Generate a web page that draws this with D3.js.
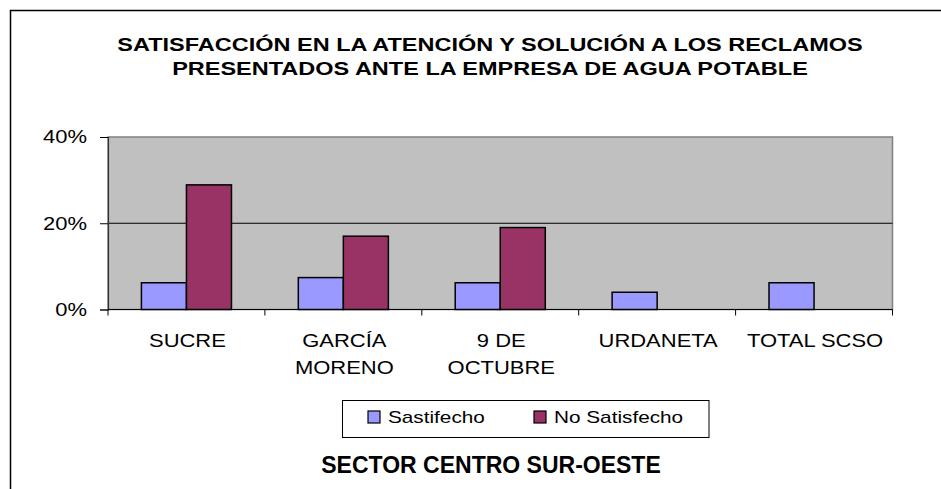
<!DOCTYPE html>
<html>
<head>
<meta charset="utf-8">
<script src="https://cdn.jsdelivr.net/npm/d3@7"></script>
<style>
  html, body { margin: 0; padding: 0; background: #fff; }
  svg { display: block; font-family: "Liberation Sans", Arial, sans-serif; }
</style>
</head>
<body>
<svg id="chart" width="941" height="489"></svg>
<script>
const categories = ["SUCRE", "GARCÍA MORENO", "9 DE OCTUBRE", "URDANETA", "TOTAL SCSO"];
const categoryLines = [["SUCRE"], ["GARCÍA", "MORENO"], ["9 DE", "OCTUBRE"], ["URDANETA"], ["TOTAL SCSO"]];
const seriesNames = ["Sastifecho", "No Satisfecho"];
const satisfecho = [0.062, 0.074, 0.062, 0.040, 0.062];
const noSatisfecho = [0.289, 0.170, 0.190, 0, 0];
const yTicks = [0, 0.2, 0.4];
const titleLines = ["SATISFACCIÓN EN LA ATENCIÓN Y SOLUCIÓN A LOS RECLAMOS", "PRESENTADOS ANTE LA EMPRESA DE AGUA POTABLE"];
const axisTitle = "SECTOR CENTRO SUR-OESTE";

const colors = ["#9999FF", "#993366"];
const STRETCH = 1.22;
const svg = d3.select("#chart");

function stretch(sel, f) {
  sel.each(function() {
    const len = this.getComputedTextLength();
    d3.select(this).attr("textLength", len * (f || STRETCH)).attr("lengthAdjust", "spacingAndGlyphs");
  });
}

// outer border
svg.append("rect").attr("x", 10.5).attr("y", 10.5).attr("width", 960).attr("height", 500)
  .attr("fill", "#fff").attr("stroke", "#000").attr("stroke-width", 1.5);

const L = 108, R = 892.5, T = 137, B = 309.5;
const x = d3.scaleBand().domain(categories).range([L, R]).padding(0);
const groupFrac = 0.574;
const xs = d3.scaleBand().domain(seriesNames).range([0, x.bandwidth() * groupFrac]).padding(0);
const y = d3.scaleLinear().domain([0, 0.4]).range([B, T]);

// plot area
svg.append("rect").attr("x", L).attr("y", T).attr("width", R - L).attr("height", B - T)
  .attr("fill", "#C0C0C0").attr("stroke", "#808080").attr("stroke-width", 1.5);

// gridlines
svg.append("g").selectAll("line").data(yTicks.filter(d => d > 0 && d < 0.4)).join("line")
  .attr("x1", L).attr("x2", R).attr("y1", d => y(d)).attr("y2", d => y(d))
  .attr("stroke", "#000").attr("stroke-width", 1);

// bars
const data = categories.map((c, i) => ({ cat: c, vals: [satisfecho[i], noSatisfecho[i]] }));
const groups = svg.append("g").selectAll("g").data(data).join("g")
  .attr("transform", d => `translate(${x(d.cat) + x.bandwidth() * (1 - groupFrac) / 2},0)`);
groups.selectAll("rect")
  .data(d => d.vals.map((v, j) => ({ v, s: seriesNames[j], j })).filter(e => e.v > 0))
  .join("rect")
  .attr("x", d => xs(d.s)).attr("width", xs.bandwidth())
  .attr("y", d => y(d.v)).attr("height", d => y(0) - y(d.v))
  .attr("fill", d => colors[d.j]).attr("stroke", "#000").attr("stroke-width", 1.5);

// y axis
const yAxis = svg.append("g").attr("transform", `translate(${L},0)`)
  .call(d3.axisLeft(y).tickValues(yTicks).tickFormat(d3.format(".0%")).tickSize(8).tickPadding(13));
yAxis.select(".domain").attr("stroke", "#333").attr("stroke-width", 1.2);
yAxis.selectAll(".tick line").attr("stroke", "#000");
yAxis.selectAll("text").attr("font-size", 18).attr("fill", "#000")
  .attr("font-family", '"Liberation Sans", Arial, sans-serif').call(stretch);

// x axis
const xAxis = svg.append("g").attr("transform", `translate(0,${B})`);
xAxis.append("line").attr("x1", L).attr("x2", R).attr("stroke", "#000").attr("stroke-width", 1.2);
const bounds = categories.map(c => x(c)).concat([R]);
xAxis.selectAll("line.tk").data(bounds).join("line").attr("class", "tk")
  .attr("x1", d => d).attr("x2", d => d).attr("y1", 0).attr("y2", 6).attr("stroke", "#000");

// category labels
const lab = svg.append("g").selectAll("text").data(categories).join("text")
  .attr("text-anchor", "middle").attr("font-size", 18).attr("fill", "#000");
lab.each(function(c, i) {
  const t = d3.select(this);
  categoryLines[i].forEach((ln, k) => {
    t.append("tspan").attr("x", x(c) + x.bandwidth() / 2 + 1).attr("y", 347 + k * 27).text(ln);
  });
});
lab.selectAll("tspan").call(stretch);

// title
svg.append("g").selectAll("text").data(titleLines).join("text")
  .attr("x", 490).attr("y", (d, i) => 50.7 + i * 24)
  .attr("text-anchor", "middle").attr("font-weight", "bold").attr("font-size", 18.5).attr("fill", "#000")
  .text(d => d).call(stretch, 1.27);

// legend
const lg = svg.append("g");
lg.append("rect").attr("x", 342.5).attr("y", 400.5).attr("width", 366.5).attr("height", 37)
  .attr("fill", "#fff").attr("stroke", "#000").attr("stroke-width", 1);
const lgX = [368, 534];
const items = lg.selectAll("g").data(seriesNames).join("g")
  .attr("transform", (d, i) => `translate(${lgX[i]},0)`);
items.append("rect").attr("x", 0).attr("y", 411).attr("width", 12).attr("height", 12)
  .attr("fill", (d, i) => colors[i]).attr("stroke", "#000").attr("stroke-width", 1.2);
items.append("text").attr("x", 20).attr("y", 423).attr("font-size", 17).attr("fill", "#000")
  .text(d => d).call(stretch);

// axis title
svg.append("text").attr("x", 491).attr("y", 473.3).attr("text-anchor", "middle")
  .attr("font-weight", "bold").attr("font-size", 23).attr("fill", "#000").text(axisTitle);
</script>
</body>
</html>
